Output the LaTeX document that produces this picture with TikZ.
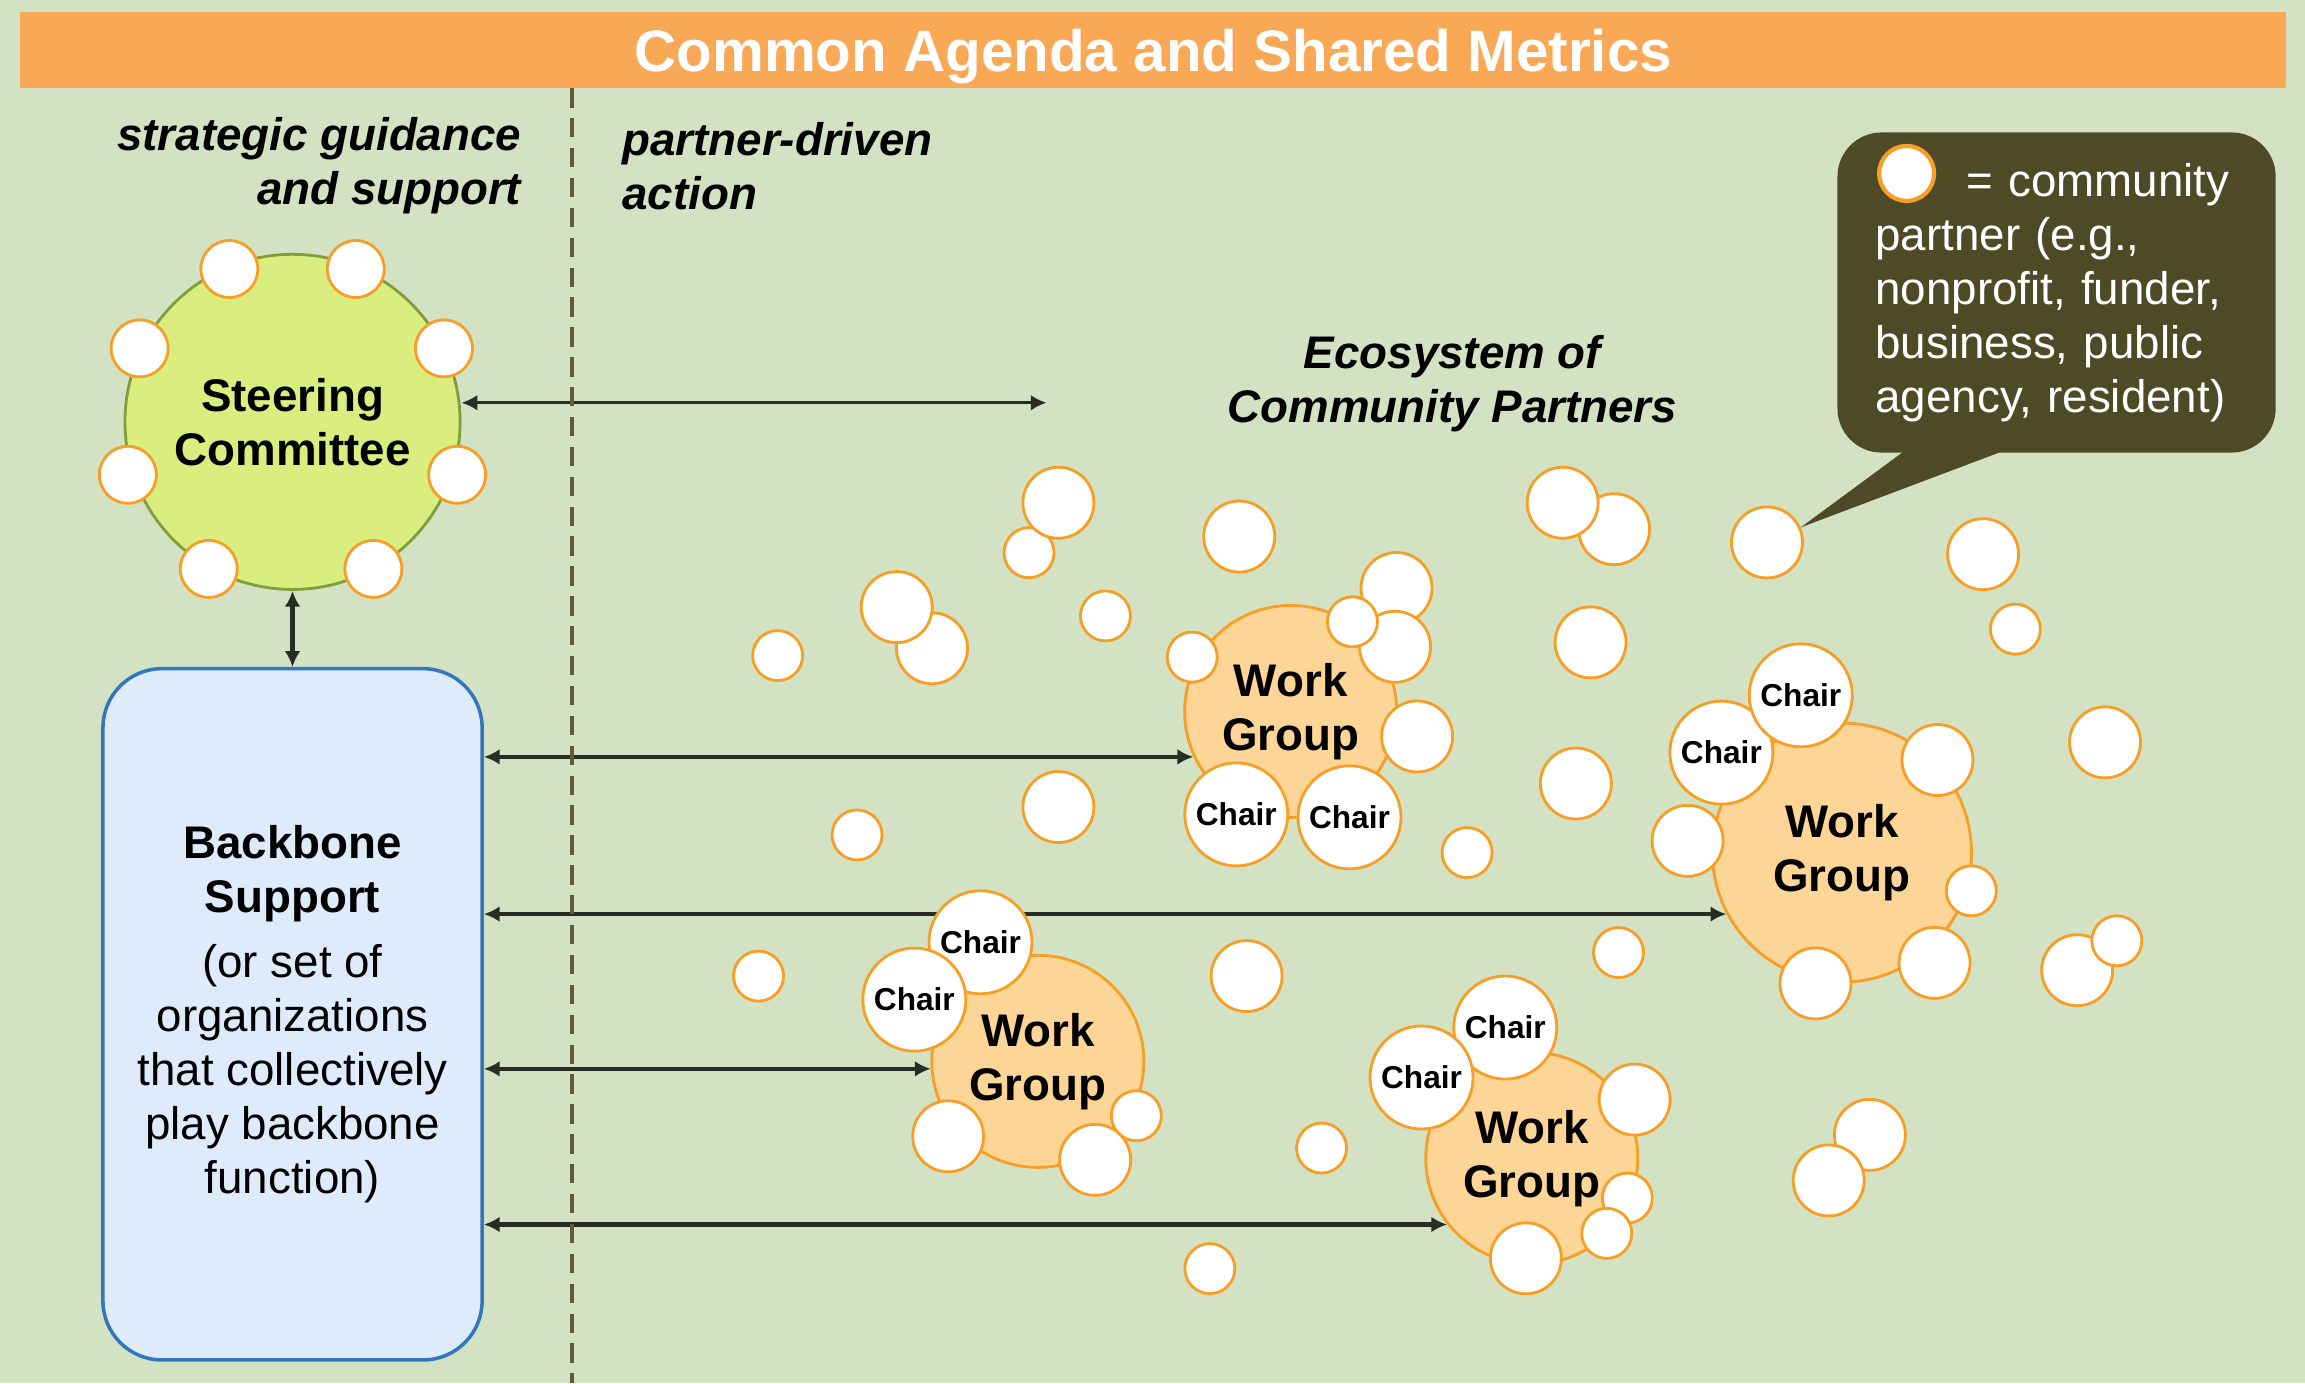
\documentclass[tikz,border=0pt]{standalone}
\usepackage{fontspec}
\setmainfont{Liberation Sans}
\usepackage{tikz}
\usetikzlibrary{arrows.meta,backgrounds}
\definecolor{bggreen}{RGB}{211,226,195}
\definecolor{barorange}{RGB}{249,168,86}
\definecolor{ptorange}{RGB}{247,158,38}
\definecolor{wgfill}{RGB}{253,213,150}
\definecolor{steerfill}{RGB}{217,238,126}
\definecolor{steerline}{RGB}{128,158,58}
\definecolor{bbfill}{RGB}{221,235,251}
\definecolor{bbline}{RGB}{52,118,188}
\definecolor{calloutbg}{RGB}{79,74,38}
\definecolor{divline}{RGB}{96,92,58}
\definecolor{arrowgray}{RGB}{40,44,36}
\newcommand{\lblfont}{\fontsize{13}{15.4}\selectfont}

\begin{document}
\begin{tikzpicture}[x=0.0147cm, y=-0.0147cm, >={Latex[length=4.5pt,width=4.5pt]},
    partner/.style={circle, draw=ptorange, fill=white, line width=0.8pt, inner sep=0pt, minimum size=0.71cm},
    partnersm/.style={partner, minimum size=0.5cm},
    seat/.style={partner, minimum size=0.57cm},
    chair/.style={partner, minimum size=1.03cm, font=\fontsize{9}{10}\selectfont\bfseries},
    workgrp/.style={circle, draw=ptorange, fill=wgfill, line width=0.8pt, align=center, font=\lblfont\bfseries, minimum size=2.12cm},
    heading/.style={inner sep=0pt, font=\lblfont\bfseries\itshape},
    link/.style={<->, draw=arrowgray, line width=1.3pt}]
    \useasboundingbox (0,0) rectangle (1568,941);

    % Banner
    \node[fill=barorange, minimum width=22.65cm, minimum height=0.764cm, inner ysep=0pt, text=white, text height=1.25em, text depth=0pt, font=\fontsize{16.6}{20}\selectfont\bfseries] (agenda) at (784.5,34) {Common Agenda and Shared Metrics};

    % Divider
    \draw[divline, line width=1pt, dash pattern=on 5.5pt off 3pt] (389,60) -- (389,941);

    % Headings
    \node[heading, anchor=east, align=right] (guide) at (355,113) {strategic guidance\\and support};
    \node[heading, anchor=west, align=left] (action) at (423,113) {partner-driven\\action};
    \node[heading, align=center] (ecosys) at (988,261) {Ecosystem of\\Community Partners};

    % Steering committee
    \node[circle, draw=steerline, fill=steerfill, line width=0.8pt, minimum size=3.35cm, align=center, font=\lblfont\bfseries] (steer) at (199,287) {Steering\\Committee};
    \node[seat] (s1) at (156,183) {};
    \node[seat] (s2) at (242,183) {};
    \node[seat] (s3) at (95,237) {};
    \node[seat] (s4) at (302,237) {};
    \node[seat] (s5) at (87,323) {};
    \node[seat] (s6) at (311,323) {};
    \node[seat] (s7) at (142,387) {};
    \node[seat] (s8) at (254,387) {};

    % Backbone
    \node[draw=bbline, fill=bbfill, line width=1pt, rounded corners=0.59cm, minimum width=3.79cm, minimum height=6.91cm, align=center, font=\lblfont] (bb) at (199,690) {\textbf{Backbone}\\\textbf{Support}\\[3pt](or set of\\organizations\\that collectively\\play backbone\\function)};

    % Work groups
    \node[workgrp] (wg1) at (878,484) {Work\\Group};
    \node[workgrp, minimum size=2.59cm] (wg2) at (1253,580) {Work\\Group};
    \node[workgrp] (wg3) at (706,722) {Work\\Group};
    \node[workgrp] (wg4) at (1042,788) {Work\\Group};

    % Chairs
    \node[chair] (c11) at (841,554) {Chair};
    \node[chair] (c12) at (918,556) {Chair};
    \node[chair] (c22) at (1171,512) {Chair};
    \node[chair] (c21) at (1225,473) {Chair};
    \node[chair] (c31) at (667,641) {Chair};
    \node[chair] (c32) at (622,680) {Chair};
    \node[chair] (c41) at (1024,699) {Chair};
    \node[chair] (c42) at (967,733) {Chair};

    % Partners around work groups
    \node[partnersm] (w1a) at (811,447) {};
    \node[partner] (w1b) at (950,400) {};
    \node[partner] (w1c) at (949,440) {};
    \node[partnersm] (w1d) at (920,423) {};
    \node[partner] (w1e) at (964,501) {};
    \node[partner] (w2a) at (1318,517) {};
    \node[partner] (w2b) at (1148,572) {};
    \node[partnersm] (w2c) at (1341,606) {};
    \node[partner] (w2d) at (1235,669) {};
    \node[partner] (w2e) at (1316,655) {};
    \node[partner] (w3a) at (645,773) {};
    \node[partner] (w3b) at (745,789) {};
    \node[partnersm] (w3c) at (773,759) {};
    \node[partner] (w4a) at (1112,748) {};
    \node[partnersm] (w4b) at (1107,815) {};
    \node[partnersm] (w4c) at (1093,839) {};
    \node[partner] (w4d) at (1038,856) {};

    % Other partners
    \node[partnersm] (p1) at (700,376) {};
    \node[partner] (p2) at (720,342) {};
    \node[partner] (p3) at (843,365) {};
    \node[partner] (p4) at (634,441) {};
    \node[partner] (p5) at (610,413) {};
    \node[partnersm] (p6) at (529,446) {};
    \node[partnersm] (p7) at (752,419) {};
    \node[partner] (p8) at (720,549) {};
    \node[partnersm] (p9) at (583,568) {};
    \node[partnersm] (p10) at (516,664) {};
    \node[partner] (p11) at (848,664) {};
    \node[partnersm] (p12) at (899,781) {};
    \node[partnersm] (p13) at (823,863) {};
    \node[partnersm] (p14) at (998,580) {};
    \node[partner] (p15) at (1098,360) {};
    \node[partner] (p16) at (1063,342) {};
    \node[partner] (p17) at (1082,437) {};
    \node[partner] (p18) at (1072,533) {};
    \node[partnersm] (p19) at (1101,648) {};
    \node[partner] (pc) at (1202,369) {};
    \node[partner] (p20) at (1349,377) {};
    \node[partnersm] (p21) at (1371,428) {};
    \node[partner] (p22) at (1432,505) {};
    \node[partner] (p23) at (1413,660) {};
    \node[partnersm] (p24) at (1440,640) {};
    \node[partner] (p25) at (1272,772) {};
    \node[partner] (p26) at (1244,803) {};

    % Callout
    \node[fill=calloutbg, rounded corners=0.44cm, minimum width=4.38cm, minimum height=3.2cm, inner xsep=0.38cm, text width=3.62cm, align=left, text=white, font=\lblfont] (callout) at (1399,199) {\hspace*{0.91cm}= community\\partner (e.g.,\\nonprofit, funder,\\business, public\\agency, resident)};
    \fill[calloutbg] ([xshift=0.74cm, yshift=2pt]callout.south west) -- (pc.24) -- ([xshift=1.79cm, yshift=2pt]callout.south west) -- cycle;
    \node[partner, minimum size=0.55cm, line width=1.2pt] (legend) at (1297,118) {};

    % Arrows
    \begin{scope}[on background layer]
        \fill[bggreen] (0,0) rectangle (1568,941);
        \coordinate (reach) at (712,274);
        \draw[<->, draw=arrowgray, line width=0.9pt] (steer.east |- reach) -- (reach);
        \draw[link] (steer.south) -- (bb.north);
        \draw[link] (bb.east |- wg1.205) -- (wg1.205);
        \draw[link] (bb.east |- wg2.208.5) -- (wg2.208.5);
        \draw[link] (bb.east |- wg3.184.5) -- (wg3.184.5);
        \draw[link] (bb.east |- wg4.218) -- (wg4.218);
    \end{scope}
\end{tikzpicture}
\end{document}
